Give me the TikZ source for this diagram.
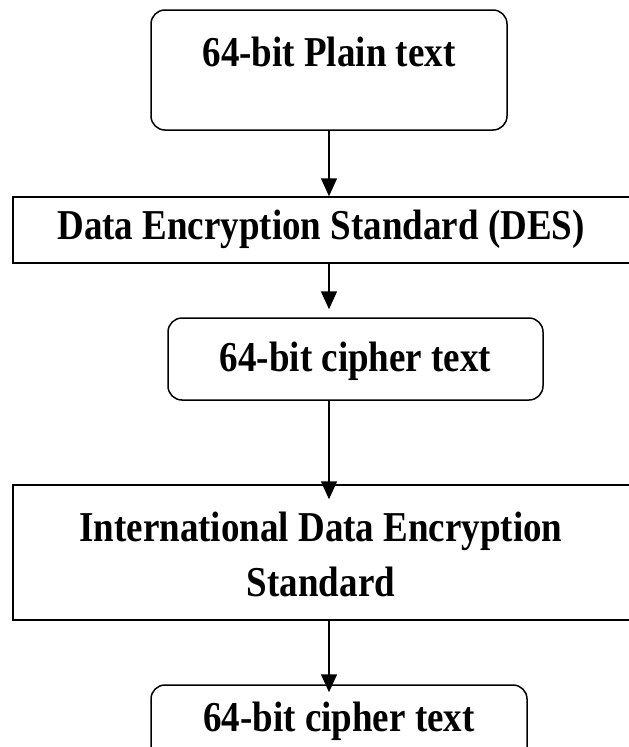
\documentclass[tikz,border=0pt]{standalone}
\usepackage{fontspec}
\setmainfont{Liberation Serif}
\usetikzlibrary{arrows.meta}
\newcommand{\tallt}[1]{\scalebox{1}[1.15]{#1}}
\begin{document}
\begin{tikzpicture}[x=1pt,y=-1pt,
  boxline/.style={draw=black,line width=1.5pt,inner sep=0pt},
  rbox/.style={boxline,rounded corners=14pt},
  sbox/.style={boxline},
  lbl/.style={font=\fontsize{37}{44}\selectfont\bfseries,inner sep=0pt,align=center},
  arr/.style={draw=black,line width=1.5pt,-{Triangle[width=16pt,length=18pt]}}]
\useasboundingbox (0,0) rectangle (629,747);
\begin{scope}
\clip (0,0) rectangle (629,747);
\node[rbox,minimum width=356pt,minimum height=120pt] (top) at (329,70) {};
\node[lbl] (ltop) at (329,52) {\tallt{64-bit Plain text}};
\node[sbox,minimum width=622pt,minimum height=66pt] (des) at (324,230) {};
\node[lbl] (ldes) at (321,229) {\tallt{Data Encryption Standard (DES)}};
\node[rbox,minimum width=375pt,minimum height=82pt] (c1) at (355.5,359) {};
\node[lbl] (lc1) at (355.5,361) {\tallt{64-bit cipher text}};
\node[sbox,minimum width=622pt,minimum height=135pt] (idea) at (324,552.5) {};
\node[lbl] (lidea1) at (321,531) {\tallt{International Data Encryption}};
\node[lbl] (lidea2) at (321,582) {\tallt{Standard}};
\node[rbox,minimum width=376pt,minimum height=100pt] (c2) at (339,735) {};
\node[lbl] (lc2) at (339,721) {\tallt{64-bit cipher text}};
\coordinate (ax) at (329,0);
\draw[arr] (top.south) -- (des.north -| ax);
\draw[arr,shorten >=8pt] (des.south -| ax) -- (c1.north -| ax);
\draw[arr,shorten >=-15pt] (c1.south -| ax) -- (idea.north -| ax);
\draw[arr,shorten >=-8pt] (idea.south -| ax) -- (c2.north -| ax);
\end{scope}
\end{tikzpicture}
\end{document}
